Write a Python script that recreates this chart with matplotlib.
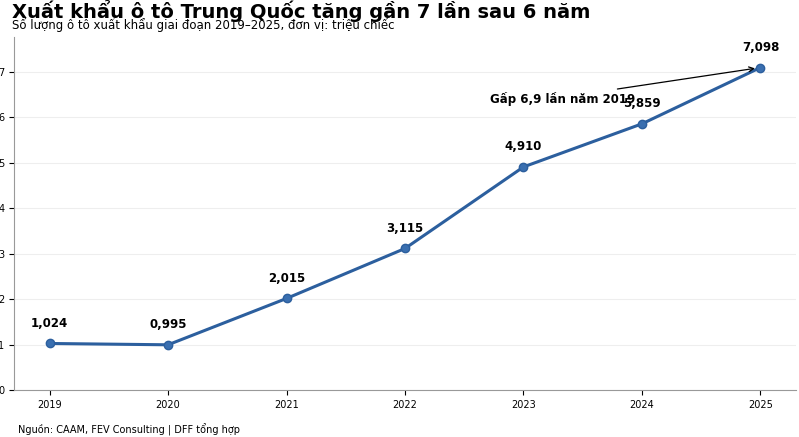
import matplotlib
matplotlib.use("Agg")
import matplotlib.pyplot as plt

years = [2019, 2020, 2021, 2022, 2023, 2024, 2025]
values = [1.024, 0.995, 2.015, 3.115, 4.910, 5.859, 7.098]
labels = ["1,024", "0,995", "2,015", "3,115", "4,910", "5,859", "7,098"]

fig = plt.figure(figsize=(7.99, 4.37), dpi=100)
ax = fig.add_axes([14/799, 1-390/437, 782/799, 353/437])
ax.plot(years, values, color="#2c5f9e", lw=2.2, marker="o", ms=6,
        markerfacecolor="#3a6fb0", markeredgecolor="#2c5f9e", zorder=3)
for x, v, l in zip(years, values, labels):
    ax.annotate(l, (x, v), xytext=(0, 10), textcoords="offset points",
                ha="center", va="bottom", fontsize=8.5, fontweight="bold")
ax.annotate("Gấp 6,9 lần năm 2019", xy=(2025, 7.098), xytext=(2023.33, 6.41),
            ha="center", va="center", fontsize=8.5, fontweight="bold",
            arrowprops=dict(arrowstyle="->", color="black", lw=0.9,
                            shrinkA=0, shrinkB=4, relpos=(0.75, 1.0)))
ax.set_xlim(2018.7, 2025.3)
ax.set_ylim(0, 7.77)
ax.set_xticks(years)
ax.set_yticks(range(8))
ax.tick_params(labelsize=7)
ax.grid(axis="y", color="#eeeeee", lw=0.8)
ax.set_axisbelow(True)
for s in ["top", "right"]:
    ax.spines[s].set_visible(False)
for s in ["left", "bottom"]:
    ax.spines[s].set_color("#999999")
fig.text(12/799, 1-11/437, "Xuất khẩu ô tô Trung Quốc tăng gần 7 lần sau 6 năm",
         fontsize=14, fontweight="bold", va="center")
fig.text(12/799, 1-25/437, "Số lượng ô tô xuất khẩu giai đoạn 2019–2025, đơn vị: triệu chiếc",
         fontsize=8.5, va="center")
fig.text(18/799, 1-430/437, "Nguồn: CAAM, FEV Consulting | DFF tổng hợp", fontsize=7, va="center")
fig.savefig("out.png", dpi=100)
